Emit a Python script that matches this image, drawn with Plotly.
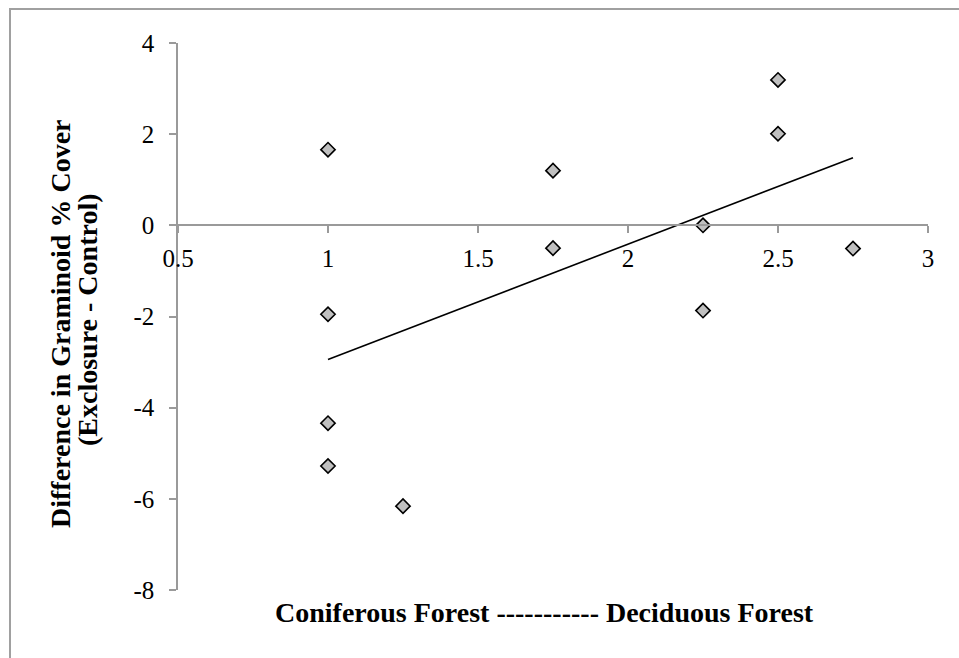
import numpy as np
import plotly.graph_objects as go

# Data
forest_gradient = [1, 1, 1, 1, 1.25, 1.75, 1.75, 2.25, 2.25, 2.5, 2.5, 2.75]
graminoid_diff = [1.66, -1.95, -4.34, -5.28, -6.16, 1.2, -0.5, 0.0, -1.87, 3.19, 2.01, -0.51]

x_ticks = [0.5, 1, 1.5, 2, 2.5, 3]
x_tick_labels = ["0.5", "1", "1.5", "2", "2.5", "3"]
y_ticks = [-8, -6, -4, -2, 0, 2, 4]
y_tick_labels = ["-8", "-6", "-4", "-2", "0", "2", "4"]

x_title = "Coniferous Forest ----------- Deciduous Forest"
y_title_line1 = "Difference in Graminoid % Cover"
y_title_line2 = "(Exclosure - Control)"

# Linear trendline (least squares) computed from the data
slope, intercept = np.polyfit(forest_gradient, graminoid_diff, 1)
trend_x = [min(forest_gradient), max(forest_gradient)]
trend_y = [slope * v + intercept for v in trend_x]

FONT = "Liberation Serif, Times New Roman, serif"
AXIS_GRAY = "#9a9a9a"
TICK_SIZE = 25
XTITLE_SIZE = 28
YTITLE_SIZE = 28

fig = go.Figure()
fig.add_trace(go.Scatter(
    x=trend_x, y=trend_y, mode="lines",
    line=dict(color="black", width=1.6),
    hoverinfo="skip", showlegend=False,
))
fig.add_trace(go.Scatter(
    x=forest_gradient, y=graminoid_diff, mode="markers",
    marker=dict(symbol="diamond", size=11, color="#c0c0c0",
                line=dict(color="black", width=1.6)),
    showlegend=False,
))

W, H = 959, 658
L, R, T, B = 178, 31, 43, 68
pw, ph = W - L - R, H - T - B

def px_to_paper_x(px):
    return (px - L) / pw

def px_to_paper_y(py):
    return (H - B - py) / ph

fig.update_layout(
    width=W, height=H,
    margin=dict(l=L, r=R, t=T, b=B, pad=0),
    paper_bgcolor="white", plot_bgcolor="white",
    font=dict(family=FONT, size=TICK_SIZE, color="black"),
    xaxis=dict(
        range=[0.5, 3], tickvals=x_ticks, ticktext=x_tick_labels,
        showline=True, linecolor=AXIS_GRAY, linewidth=1.5,
        ticks="outside", ticklen=7, tickcolor=AXIS_GRAY, tickwidth=1.5,
        showgrid=False, zeroline=False,
        anchor="free", position=8 / 12,
        ticklabelstandoff=4,
        tickfont=dict(family=FONT, size=TICK_SIZE, color="black"),
    ),
    yaxis=dict(
        range=[-8, 4], tickvals=y_ticks, ticktext=y_tick_labels,
        showline=True, linecolor=AXIS_GRAY, linewidth=1.5,
        ticks="outside", ticklen=7, tickcolor=AXIS_GRAY, tickwidth=1.5,
        showgrid=False, zeroline=False,
        ticklabelstandoff=10,
        tickfont=dict(family=FONT, size=TICK_SIZE, color="black"),
    ),
    shapes=[dict(
        type="rect", xref="paper", yref="paper",
        x0=px_to_paper_x(10), x1=px_to_paper_x(980),
        y0=px_to_paper_y(680), y1=px_to_paper_y(9),
        line=dict(color="#a0a0a0", width=2), fillcolor="rgba(0,0,0,0)",
        layer="below",
    )],
    annotations=[
        dict(text="<b>" + x_title + "</b>", xref="paper", yref="paper",
             x=px_to_paper_x(544), y=px_to_paper_y(612),
             xanchor="center", yanchor="middle", showarrow=False,
             font=dict(family=FONT, size=XTITLE_SIZE, color="black")),
        dict(text="<b>" + y_title_line1 + "</b>", xref="paper", yref="paper",
             x=px_to_paper_x(60), y=px_to_paper_y(324),
             xanchor="center", yanchor="middle", showarrow=False,
             textangle=-90,
             font=dict(family=FONT, size=YTITLE_SIZE, color="black")),
        dict(text="<b>" + y_title_line2 + "</b>", xref="paper", yref="paper",
             x=px_to_paper_x(88), y=px_to_paper_y(320),
             xanchor="center", yanchor="middle", showarrow=False,
             textangle=-90,
             font=dict(family=FONT, size=YTITLE_SIZE, color="black")),
    ],
)

fig.write_html("out.html")
